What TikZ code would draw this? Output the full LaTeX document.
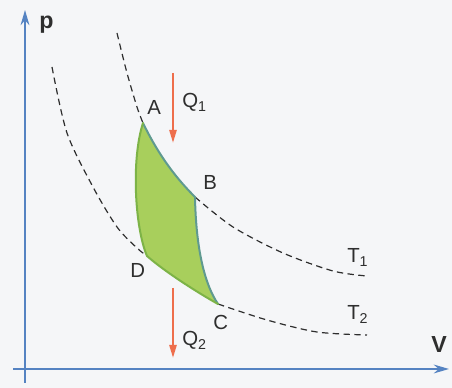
\documentclass[tikz,border=0pt]{standalone}
\usepackage{fontspec}
\setmainfont{Liberation Sans}
\usetikzlibrary{arrows.meta}
\definecolor{ink}       {HTML}{2E2E2E}
\definecolor{paper}     {HTML}{F5F6F8}
\definecolor{axisblue}  {HTML}{5583C2}
\definecolor{heatred}   {HTML}{EE6E4C}
\definecolor{cyclefill} {HTML}{A8CF5C}
\definecolor{cyclegreen}{HTML}{7DB347}
\definecolor{cycleteal} {HTML}{5F9A90}
\tikzset{
  % --- lines
  axis/.style = {draw=axisblue, line width=0.5mm, -{Stealth[length=3.8mm,width=2.2mm]}},
  iso/.style  = {draw=ink, line width=0.3mm, dash pattern=on 1.6mm off 1.1mm},
  heat/.style = {draw=heatred, line width=0.55mm, -{Triangle[length=3.3mm,width=1.8mm]}},
  cyc/.style  = {line width=0.5mm, line join=round, line cap=round},
  % --- labels
  lbl/.style  = {inner sep=0pt, anchor=base west, text=ink, font=\fontsize{14.5}{17}\selectfont},
  albl/.style = {lbl, font=\fontsize{16.5}{19}\selectfont\bfseries},
}

\begin{document}
\begin{tikzpicture}[x=0.25mm, y=-0.25mm]
  \fill[paper] (0,0) rectangle (452,388);
  \useasboundingbox (0,0) rectangle (452,388);

  % ------------------------------------------------------------------ axes
  \coordinate (ybot)   at (25,383);
  \coordinate (ytop)   at (25,10);
  \coordinate (xleft)  at (13,369);
  \coordinate (xright) at (449,369);
  \draw[axis] (ybot) -- (ytop);
  \draw[axis] (xleft) -- (xright);
  \node[albl] (plbl) at (39,29) {p};
  \node[albl] (vlbl) at (431,353) {V};

  % ------------------------------------------------------------------ corners
  \coordinate (A) at (143,123);
  \coordinate (B) at (195,197);
  \coordinate (C) at (218,304);
  \coordinate (D) at (147,256);

  % ------------------------------------------------------------------ isotherms
  \draw[iso] plot[smooth] coordinates {(117,33) (127,73) (137,107) (A)};
  \draw[iso] plot[smooth] coordinates {(B) (233,227) (283,253) (333,271) (367,276)};
  \draw[iso] plot[smooth] coordinates {(52,67) (67,133) (93,187) (117,227) (137,248) (D)};
  \draw[iso] plot[smooth] coordinates {(C) (267,320) (317,332) (367,335)};

  % ------------------------------------------------------------------ cycle
  \fill[cyclefill]
    (A) .. controls (160,158) and (178,180) .. (B)
        .. controls (196,250) and (205,285) .. (C)
        .. controls (200,294) and (165,272) .. (D)
        .. controls (135,228) and (131,160) .. (A) -- cycle;
  \draw[cyc, cycleteal]
    (A) .. controls (160,158) and (178,180) .. (B)
        .. controls (196,250) and (205,285) .. (C);
  \draw[cyc, cyclegreen]
    (C) .. controls (200,294) and (165,272) .. (D)
        .. controls (135,228) and (131,160) .. (A);

  \node[lbl] (albl) at (147,115) {A};
  \node[lbl] (blbl) at (203,190) {B};
  \node[lbl] (clbl) at (213,330) {C};
  \node[lbl] (dlbl) at (130,278) {D};
  \node[lbl] (t1)   at (347,263) {T\textsubscript{1}};
  \node[lbl] (t2)   at (347,320) {T\textsubscript{2}};

  % ------------------------------------------------------------------ heat
  \coordinate (q1top) at (173,73);
  \coordinate (q1bot) at (173,143);
  \coordinate (q2top) at (173,288);
  \coordinate (q2bot) at (173,358);
  \draw[heat] (q1top) -- (q1bot);
  \draw[heat] (q2top) -- (q2bot);
  \node[lbl] (q1) at (182,108) {Q\textsubscript{1}};
  \node[lbl] (q2) at (182,346) {Q\textsubscript{2}};
\end{tikzpicture}
\end{document}
